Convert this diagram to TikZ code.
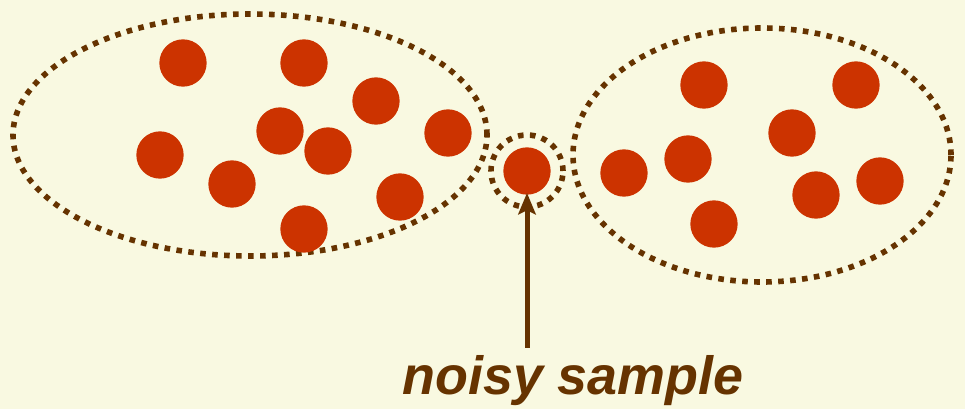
\documentclass[tikz,border=0pt]{standalone}
\usepackage{fontspec}
\setmainfont{Liberation Sans}
\usetikzlibrary{arrows.meta,shapes.geometric}
\definecolor{bg}{HTML}{F9F9E1}
\definecolor{dotred}{HTML}{CC3300}
\definecolor{brown}{HTML}{663300}
\begin{document}
\begin{tikzpicture}[x=0.75pt,y=-0.75pt,
  pt/.style={circle,fill=dotred,draw=none,minimum size=35.5pt,inner sep=0pt},
  cluster/.style={ellipse,draw=brown,line width=4.2pt,dash pattern=on 4.2pt off 4.8pt,inner sep=0pt},
  ring/.style={circle,draw=brown,line width=4.2pt,dash pattern=on 4.2pt off 4.8pt,inner sep=0pt,minimum size=54pt},
  lbl/.style={text=brown,font=\fontsize{40.4}{45}\selectfont\bfseries\itshape,inner sep=0pt,anchor=base},
  arr/.style={draw=brown,line width=3.75pt,-{Stealth[length=16pt,width=13pt,inset=3pt]}}
]
\fill[bg] (0,0) rectangle (965,409);
\useasboundingbox (0,0) rectangle (965,409);
% clusters
\node[cluster,minimum width=355.5pt,minimum height=181.5pt] (L) at (250,135) {};
\node[cluster,minimum width=283.5pt,minimum height=190.5pt] (R) at (762,155) {};
% left dots
\node[pt] (l1) at (183,63) {};
\node[pt] (l2) at (304,63) {};
\node[pt] (l3) at (376,101) {};
\node[pt] (l4) at (280,131) {};
\node[pt] (l5) at (448,133) {};
\node[pt] (l6) at (160,155) {};
\node[pt] (l7) at (328,151) {};
\node[pt] (l8) at (232,184) {};
\node[pt] (l9) at (400,197) {};
\node[pt] (l10) at (304,229) {};
% right dots
\node[pt] (r1) at (704,85) {};
\node[pt] (r2) at (856,85) {};
\node[pt] (r3) at (792,133) {};
\node[pt] (r4) at (688,159) {};
\node[pt] (r5) at (624,173) {};
\node[pt] (r6) at (880,181) {};
\node[pt] (r7) at (816,195) {};
\node[pt] (r8) at (714,224) {};
% noisy sample
\node[ring] (ring) at (527,171) {};
\node[pt] (n) at (527,171) {};
\node[lbl] (txt) at (573,395) {noisy sample};
\coordinate (tail) at (527,348);
\draw[arr,shorten >=-1.5pt] (tail) -- (n.south);
\end{tikzpicture}
\end{document}
